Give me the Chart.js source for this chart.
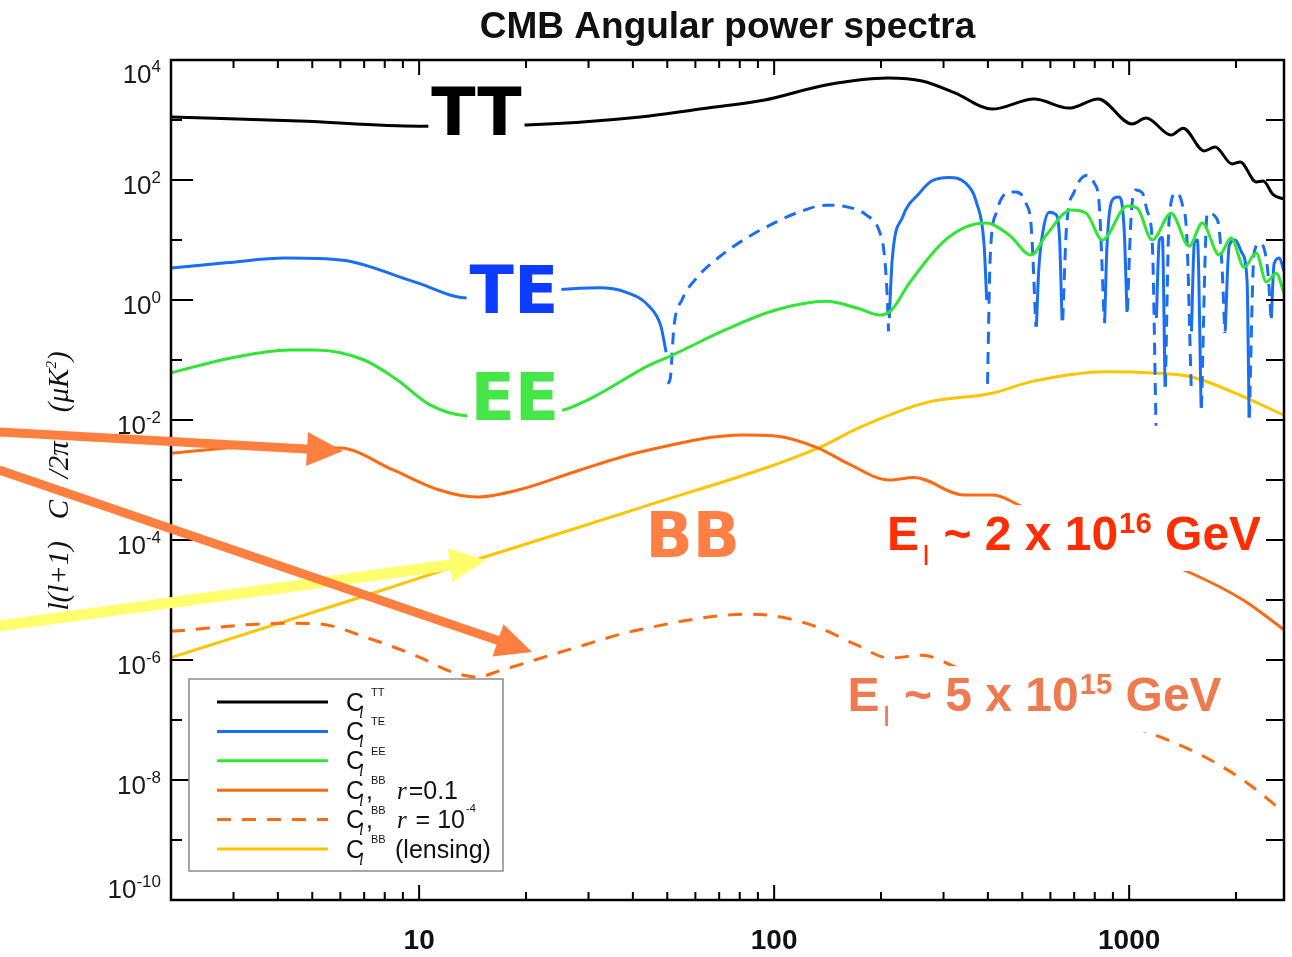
<!DOCTYPE html>
<html>
<head>
<meta charset="utf-8">
<title>CMB Angular power spectra</title>
<script src="https://cdn.jsdelivr.net/npm/chart.js@4.4.1/dist/chart.umd.min.js"></script>
<style>
  html, body { margin: 0; padding: 0; background: #fff; }
  #wrap { width: 1292px; height: 957px; }
</style>
</head>
<body>
<div id="wrap"><canvas id="spectraChart"></canvas></div>
<script>
// D_l = l(l+1) C_l / 2pi in uK^2
const ttL = [2, 4.6, 10, 20, 42, 65, 94, 140, 209, 261, 324, 411, 540, 677, 818, 1019, 1116, 1313, 1419, 1626, 1746, 1950, 2055, 2280, 2385, 2545, 2730];
const ttV = [1120, 960, 790, 825, 1120, 1580, 2150, 3830, 5000, 4460, 2800, 1520, 2240, 1580, 2240, 860, 1080, 560, 730, 305, 355, 185, 200, 93, 96, 57, 48];

// TE is signed: positive part drawn solid, negative part (absolute value) dashed
const teL = [2, 2.9, 4.2, 6.1, 9.7, 13.7, 18.5, 25, 32, 38, 44.5, 48, 49.6,
  50.2, 51, 52.2, 55, 61.5, 70, 83.4, 101.5, 117, 140, 159, 182, 198, 204, 208, 210,
  211, 215, 230, 257, 277, 311, 346, 372, 390, 397,
  399, 406, 422, 459, 480, 512, 530, 546,
  548, 556, 573, 596, 620, 636, 647,
  650, 666, 700, 762, 797, 823, 850,
  853, 866, 908, 937, 968, 986,
  989, 1013, 1040, 1089, 1125, 1162, 1190,
  1193, 1216, 1240, 1262,
  1265, 1297, 1356, 1409, 1455, 1495,
  1498, 1526, 1557, 1595,
  1598, 1660, 1771, 1822, 1860,
  1864, 1913, 1990, 2080, 2149, 2177,
  2180, 2249, 2330, 2450, 2510,
  2515, 2560, 2648, 2730];
const teV = [3.4, 4.2, 5.0, 4.6, 2.0, 1.08, 1.2, 1.5, 1.6, 1.37, 0.78, 0.36, 0.135,
  -0.04, -0.05, -0.36, -1.0, -2.6, -5.2, -10.7, -20, -29, -38, -36, -26, -13.9, -6.2, -1.3, -0.3,
  0.5, 4.6, 24, 61, 95, 110, 89, 41, 8.8, 1.0,
  -0.04, -5, -28, -63, -63, -41, -16, -0.36,
  0.36, 3, 15, 29, 27, 12, 0.46,
  -0.46, -16, -63, -120, -89, -41, -0.46,
  0.41, 8, 50, 52, 15, 0.63,
  -0.68, -25, -68, -61, -30, -8.8, -0.008,
  0.5, 10, 11, 0.036,
  -0.036, -24, -61, -41, -10, -0.036,
  0.3, 9, 10, 0.016,
  -0.016, -28, -22, -4.6, -0.28,
  0.3, 8, 10, 6, 2, 0.011,
  -0.011, -6, -8.8, -3.6, -0.5,
  0.5, 4, 5, 3];

const eeL = [2, 2.95, 4.3, 5.1, 7.0, 8.7, 10.7, 13.7, 18.5, 25.5, 30.5, 44.5, 51.6, 73, 101, 140, 173, 198, 214, 240, 297, 347, 396, 459, 530, 584, 687, 757, 840, 987, 1054, 1161, 1313, 1476, 1606, 1794, 1938, 2108, 2280, 2432, 2596, 2730];
const eeV = [0.061, 0.108, 0.147, 0.147, 0.1, 0.046, 0.018, 0.0117, 0.0115, 0.0147, 0.023, 0.082, 0.12, 0.32, 0.68, 0.95, 0.72, 0.56, 0.68, 1.9, 8.9, 16.5, 19.2, 12.1, 5.6, 12.1, 31.6, 28, 10, 36.9, 34, 10, 28, 7.9, 19.2, 5.6, 10.8, 3.5, 6.1, 2.0, 2.8, 1.3];

const bbL = [2, 3.3, 6.0, 8.45, 11.4, 14.5, 19, 28.4, 41.7, 82, 101, 133, 161, 211, 248, 343, 414, 500, 823, 1476, 2094, 2730];
const bbV = [0.0028, 0.0035, 0.0034, 0.00147, 0.00068, 0.00052, 0.00068, 0.00147, 0.0029, 0.0056, 0.0054, 0.0034, 0.0019, 0.001, 0.0011, 0.00056, 0.00056, 0.00036, 0.00011, 2.9e-5, 1e-5, 3.2e-6];

const bbLowL = [2, 4.2, 5.2, 7.2, 10, 12.4, 14.5, 17.1, 26.5, 41.7, 86, 101, 133, 170, 211, 261, 326, 596, 1124, 1596, 2094, 2730];
const bbLowV = [3.0e-6, 4.1e-6, 4.0e-6, 2.3e-6, 1.12e-6, 6.3e-7, 5.2e-7, 6.8e-7, 1.5e-6, 3.2e-6, 5.8e-6, 5.4e-6, 3.5e-6, 1.8e-6, 1.08e-6, 1.2e-6, 7.6e-7, 2.2e-7, 6.3e-8, 2.6e-8, 1e-8, 2.9e-9];

const lensL = [2, 6.8, 13.8, 41.7, 133, 173, 268, 411, 533, 861, 1162, 1503, 2080, 2730];
const lensV = [1.1e-6, 1.1e-5, 4.3e-5, 3.4e-4, 0.0034, 0.0074, 0.0195, 0.028, 0.044, 0.064, 0.061, 0.052, 0.025, 0.012];

// axis ticks
const xLabelTicks = [10, 100, 1000];
const xMinorTicks = [3, 4, 5, 6, 7, 8, 9, 20, 30, 40, 50, 60, 70, 80, 90, 200, 300, 400, 500, 600, 700, 800, 900, 2000];
const yTickExps = [-10, -9, -8, -7, -6, -5, -4, -3, -2, -1, 0, 1, 2, 3, 4];

// annotations (positions in data units: multipole l, D_l)
const bigLabels = [
  { text: 'TT', color: '#000000', l: 14.5, v: 562, size: 65 },
  { text: 'TE', color: '#0c3cff', l: 18.5, v: 0.61, size: 65 },
  { text: 'EE', color: '#46e64b', l: 18.6, v: 0.01, size: 65 },
  { text: 'BB', color: '#ff7f45', l: 59, v: 5.2e-5, size: 62 }
];
const energyLabels = [
  { mant: '2', exp: '16', color: '#ff2d00', l: 208, v: 6.8e-5 },
  { mant: '5', exp: '15', color: '#f07a50', l: 161, v: 1.41e-7 }
];
const arrows = [
  { color: '#ffff6e', width: 11, from: [0.656, 3.7e-6], to: [15.4, 4.6e-5] },
  { color: '#ff7f40', width: 9, from: [0.656, 0.0063], to: [6.1, 0.00304] },
  { color: '#ff7f40', width: 9, from: [0.656, 0.00147], to: [20.8, 1.36e-6] }
];

const SANS = '"Liberation Sans", Arial, sans-serif';
const NARROW = '"Liberation Sans Narrow", "Liberation Sans", sans-serif';
const SERIF = '"Liberation Serif", "Times New Roman", serif';

function pairs(ls, vs) {
  return ls.map((l, i) => ({ x: l, y: vs[i] }));
}

function runsWidth(ctx, runs) {
  let w = 0;
  runs.forEach(r => { ctx.font = r.font; w += ctx.measureText(r.t).width + (r.dx || 0); });
  return w;
}

function drawRuns(ctx, runs, x, y) {
  runs.forEach(r => {
    ctx.font = r.font;
    x += (r.dx || 0);
    ctx.fillText(r.t, x, y + (r.dy || 0));
    x += ctx.measureText(r.t).width;
  });
}

function drawArrow(ctx, x0, y0, x1, y1, color, width) {
  const headLen = 36, headW = 34;
  const ang = Math.atan2(y1 - y0, x1 - x0);
  const c = Math.cos(ang), s = Math.sin(ang);
  const bx = x1 - c * headLen, by = y1 - s * headLen;
  ctx.strokeStyle = color;
  ctx.fillStyle = color;
  ctx.lineWidth = width;
  ctx.lineCap = 'butt';
  ctx.beginPath();
  ctx.moveTo(x0, y0);
  ctx.lineTo(bx + c * 4, by + s * 4);
  ctx.stroke();
  ctx.beginPath();
  ctx.moveTo(x1, y1);
  ctx.lineTo(bx - s * headW / 2, by + c * headW / 2);
  ctx.lineTo(bx + s * headW / 2, by - c * headW / 2);
  ctx.closePath();
  ctx.fill();
}

// everything the library can't draw by itself: inward ticks, superscript labels, legend, callouts
const decorations = {
  id: 'decorations',
  afterDatasetsDraw(chart) {
    const ctx = chart.ctx;
    const xs = chart.scales.x, ys = chart.scales.y;
    const a = chart.chartArea;
    ctx.save();

    // big spectrum names on white patches
    bigLabels.forEach(b => {
      ctx.font = 'bold ' + b.size + 'px "DejaVu Sans", sans-serif';
      const w = ctx.measureText(b.text).width;
      const cx = xs.getPixelForValue(b.l), base = ys.getPixelForValue(b.v);
      const cap = b.size * 0.729;
      ctx.fillStyle = '#ffffff';
      ctx.fillRect(cx - w / 2 - 3, base - cap - 4, w + 6, cap + 8);
      ctx.fillStyle = b.color;
      ctx.textAlign = 'center';
      ctx.textBaseline = 'alphabetic';
      ctx.fillText(b.text, cx, base);
    });

    // energy scale callouts
    energyLabels.forEach(e => {
      const mainF = 'bold 49px ' + NARROW;
      const runs = [
        { t: 'E', font: mainF },
        { t: 'I', font: '30px ' + NARROW, dy: 15, dx: 3 },
        { t: ' ~ ' + e.mant + ' x 10', font: mainF },
        { t: e.exp, font: 'bold 30px ' + NARROW, dy: -17, dx: 1 },
        { t: ' GeV', font: mainF }
      ];
      const x0 = xs.getPixelForValue(e.l), base = ys.getPixelForValue(e.v);
      const target = 374;
      const sx = target / runsWidth(ctx, runs);
      ctx.fillStyle = '#ffffff';
      ctx.fillRect(x0 - 3, base - 45, target + 36, 66);
      ctx.save();
      ctx.translate(x0, base);
      ctx.scale(sx, 1);
      ctx.fillStyle = e.color;
      ctx.textAlign = 'left';
      ctx.textBaseline = 'alphabetic';
      drawRuns(ctx, runs, 0, 0);
      ctx.restore();
    });

    // frame and inward ticks
    ctx.strokeStyle = '#000';
    ctx.lineWidth = 2.5;
    ctx.strokeRect(a.left, a.top, a.right - a.left, a.bottom - a.top);
    ctx.lineWidth = 2;
    ctx.beginPath();
    xLabelTicks.concat(xMinorTicks).forEach(v => {
      const x = xs.getPixelForValue(v);
      const len = xLabelTicks.includes(v) ? 15 : 8;
      ctx.moveTo(x, a.bottom); ctx.lineTo(x, a.bottom - len);
      ctx.moveTo(x, a.top); ctx.lineTo(x, a.top + len);
    });
    yTickExps.forEach(e => {
      const y = ys.getPixelForValue(Math.pow(10, e));
      const len = e % 2 === 0 ? 22 : 11;
      ctx.moveTo(a.left, y); ctx.lineTo(a.left + len, y);
      ctx.moveTo(a.right, y); ctx.lineTo(a.right - 18, y);
    });
    ctx.stroke();

    // y tick labels 10^n
    ctx.fillStyle = '#1a1a1a';
    ctx.textAlign = 'left';
    ctx.textBaseline = 'alphabetic';
    yTickExps.filter(e => e % 2 === 0).forEach(e => {
      const y = ys.getPixelForValue(Math.pow(10, e));
      const mid = Math.min(Math.max(y + 5, a.top + 14), a.bottom - 11);
      const runs = [
        { t: '10', font: '26px ' + SANS },
        { t: String(e), font: '17px ' + SANS, dy: -11 }
      ];
      drawRuns(ctx, runs, 161 - runsWidth(ctx, runs), mid + 9);
    });

    // y axis title, rotated
    ctx.save();
    ctx.translate(58, 481);
    ctx.rotate(-Math.PI / 2);
    const titleRuns = [
      { t: 'l(l+1)', font: 'italic 29px ' + SERIF },
      { t: '   C', font: 'italic 29px ' + SERIF },
      { t: '   /2\u03c0', font: 'italic 29px ' + SERIF },
      { t: '    (\u03bcK', font: 'italic 29px ' + SERIF },
      { t: '2', font: 'italic 15px ' + SERIF, dy: -12 },
      { t: ')', font: 'italic 29px ' + SERIF }
    ];
    ctx.fillStyle = '#111';
    drawRuns(ctx, titleRuns, -runsWidth(ctx, titleRuns) / 2, 10);
    ctx.restore();

    // legend box
    const lg = { left: 189, top: 679, right: 503, bottom: 871, row0: 702, step: 29.4 };
    ctx.fillStyle = '#ffffff';
    ctx.fillRect(lg.left, lg.top, lg.right - lg.left, lg.bottom - lg.top);
    ctx.strokeStyle = '#8a8a8a';
    ctx.lineWidth = 1.5;
    ctx.strokeRect(lg.left, lg.top, lg.right - lg.left, lg.bottom - lg.top);
    const items = chart.data.datasets.filter(d => d.legendRow !== undefined)
      .sort((p, q) => p.legendRow - q.legendRow);
    items.forEach((d, i) => {
      const y = lg.row0 + i * lg.step;
      ctx.strokeStyle = d.borderColor;
      ctx.lineWidth = 3;
      ctx.setLineDash(d.borderDash || []);
      ctx.beginPath();
      ctx.moveTo(217, y);
      ctx.lineTo(328, y);
      ctx.stroke();
      ctx.setLineDash([]);
      ctx.fillStyle = '#111';
      const base = y + 8.5;
      ctx.font = '25px ' + SANS;
      ctx.fillText('C', 346, base);
      ctx.font = 'italic 16px ' + SERIF;
      ctx.fillText('l', 359, base + 7);
      ctx.font = '11px ' + SANS;
      ctx.fillText(d.legendSup, 371, y - 6);
      if (d.legendTail) drawRuns(ctx, d.legendTail, 366, base);
    });

    // pointer arrows
    arrows.forEach(ar => {
      drawArrow(ctx,
        xs.getPixelForValue(ar.from[0]), ys.getPixelForValue(ar.from[1]),
        xs.getPixelForValue(ar.to[0]), ys.getPixelForValue(ar.to[1]), ar.color, ar.width);
    });

    ctx.restore();
  }
};

const ctx = document.getElementById('spectraChart').getContext('2d');
const spectraChart = new Chart(ctx, {
  type: 'line',
  data: {
    datasets: [
      { label: 'TT', data: pairs(ttL, ttV), borderColor: '#000000', borderWidth: 3, legendRow: 0, legendSup: 'TT' },
      { label: 'EE', data: pairs(eeL, eeV), borderColor: '#2ee633', borderWidth: 3, legendRow: 2, legendSup: 'EE' },
      { label: 'TE', data: teL.map((l, i) => ({ x: l, y: teV[i] > 0 ? teV[i] : null })), borderColor: '#1a6ef5', borderWidth: 3, legendRow: 1, legendSup: 'TE' },
      { label: 'TE (negative)', data: teL.map((l, i) => ({ x: l, y: teV[i] < 0 ? -teV[i] : null })), borderColor: '#1a6ef5', borderWidth: 3, borderDash: [12, 8] },
      { label: 'BB r=0.1', data: pairs(bbL, bbV), borderColor: '#ff6a10', borderWidth: 3, legendRow: 3, legendSup: 'BB',
        legendTail: [
          { t: ',', font: '25px ' + SANS },
          { t: 'r', font: 'italic 25px ' + SERIF, dx: 24 },
          { t: '=0.1', font: '25px ' + SANS, dx: 2 }
        ] },
      { label: 'BB r=1e-4', data: pairs(bbLowL, bbLowV), borderColor: '#ff6a10', borderWidth: 3, borderDash: [14, 11], legendRow: 4, legendSup: 'BB',
        legendTail: [
          { t: ',', font: '25px ' + SANS },
          { t: 'r', font: 'italic 25px ' + SERIF, dx: 24 },
          { t: ' = 10', font: '25px ' + SANS, dx: 2 },
          { t: '-4', font: '11px ' + SANS, dy: -16, dx: 1 }
        ] },
      { label: 'BB lensing', data: pairs(lensL, lensV), borderColor: '#ffc400', borderWidth: 3, legendRow: 5, legendSup: 'BB',
        legendTail: [
          { t: '(lensing)', font: '25px ' + SANS, dx: 29 }
        ] }
    ]
  },
  options: {
    responsive: true,
    maintainAspectRatio: false,
    animation: false,
    events: [],
    layout: { padding: { left: 0, right: 8, top: 0, bottom: 0 } },
    elements: {
      point: { radius: 0 },
      line: { cubicInterpolationMode: 'monotone', borderCapStyle: 'butt' }
    },
    plugins: {
      legend: { display: false },
      tooltip: { enabled: false },
      title: {
        display: true,
        text: 'CMB Angular power spectra',
        fullSize: false,
        color: '#111',
        font: { family: SANS, size: 37, weight: 'bold', lineHeight: 1 },
        padding: { top: 9, bottom: 14 }
      }
    },
    scales: {
      x: {
        type: 'logarithmic',
        min: 2,
        max: 2730,
        grid: { display: false, drawTicks: false },
        border: { display: false },
        afterFit: (scale) => { scale.height = 57; },
        afterBuildTicks: (scale) => { scale.ticks = xLabelTicks.map(v => ({ value: v })); },
        ticks: {
          autoSkip: false,
          maxRotation: 0,
          padding: 24,
          color: '#111',
          font: { family: SANS, size: 28, weight: 'bold' },
          callback: (v) => String(v)
        }
      },
      y: {
        type: 'logarithmic',
        min: 1e-10,
        max: 1e4,
        grid: { display: false, drawTicks: false },
        border: { display: false },
        afterFit: (scale) => { scale.width = 171; },
        ticks: { display: false }
      }
    }
  },
  plugins: [decorations]
});
</script>
</body>
</html>
